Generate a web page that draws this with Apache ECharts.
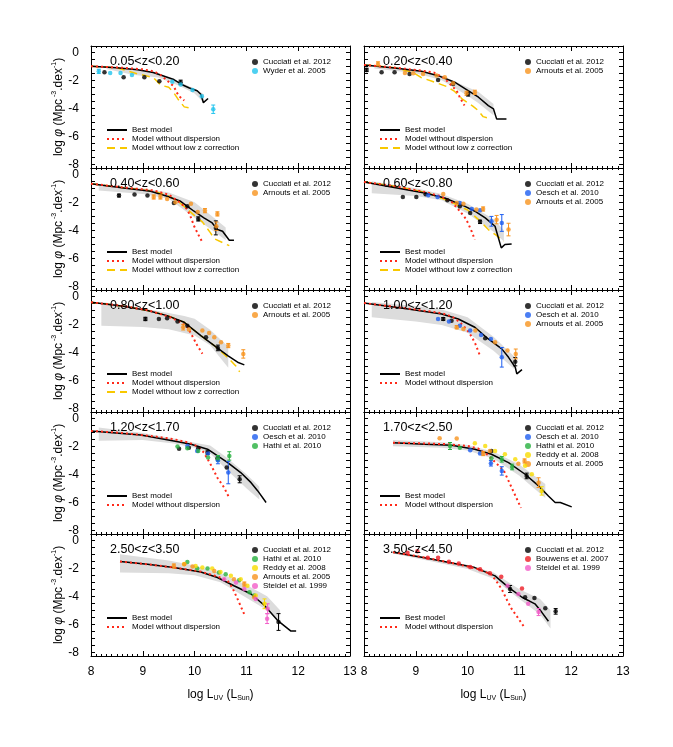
<!DOCTYPE html>
<html>
<head>
<meta charset="utf-8">
<script src="https://cdn.jsdelivr.net/npm/echarts@6.0.0/dist/echarts.min.js"></script>
<style>
  html, body { margin: 0; padding: 0; background: #fff; }
  #main { width: 673px; height: 747px; }
</style>
</head>
<body>
<div id="main"></div>
<script>
// 刻度和红移区间
var xTicks = [8, 9, 10, 11, 12, 13];
var yTicks = [0, -2, -4, -6, -8];
var zBins = ['0.05<z<0.20', '0.20<z<0.40', '0.40<z<0.60', '0.60<z<0.80', '0.80<z<1.00',
             '1.00<z<1.20', '1.20<z<1.70', '1.70<z<2.50', '2.50<z<3.50', '3.50<z<4.50'];

// 0.05<z<0.20
var best1 = [[8.0,-1.0],[8.5,-1.1],[8.9,-1.25],[9.2,-1.45],[9.4,-1.7],[9.6,-1.95],[9.75,-2.3],[9.9,-2.55],[10.05,-2.75],[10.12,-3.0],[10.17,-3.6],[10.26,-3.3]];
var nodisp1 = [[8.0,-1.0],[8.5,-1.08],[9.0,-1.22],[9.2,-1.35],[9.32,-1.55],[9.45,-1.95],[9.6,-2.45],[9.66,-2.9],[9.72,-3.2],[9.8,-3.45]];
var nolowz1 = [[8.0,-1.0],[8.5,-1.1],[8.86,-1.5],[9.2,-1.8],[9.35,-2.35],[9.5,-2.5],[9.6,-2.9],[9.68,-3.35],[9.8,-3.9],[9.9,-3.98]];
var bandHi1 = [[8.3,-1.05],[8.8,-1.2],[9.3,-1.5],[9.7,-2.1],[10.0,-2.6],[10.18,-3.0]];
var bandLo1 = [[8.3,-1.2],[8.8,-1.6],[9.3,-1.8],[9.7,-2.4],[10.0,-2.95],[10.18,-3.6]];
var cucc1 = [[8.26,-1.43],[8.63,-1.79],[9.03,-1.79],[9.32,-2.07],[9.73,-2.14,0.15]];
var wyder1 = [[8.15,-1.36,0.15],[8.37,-1.48],[8.57,-1.48],[8.79,-1.62],[9.57,-2.1],[9.73,-2.3],[9.96,-2.69],[10.14,-3.14],[10.36,-4.07,0.3]];

// 0.20<z<0.40
var best2 = [[8.0,-0.9],[8.59,-1.12],[9.11,-1.36],[9.43,-1.67],[9.75,-2.14],[10.01,-2.74],[10.21,-3.21],[10.4,-3.81],[10.5,-4.05],[10.56,-4.76],[10.75,-4.76]];
var nodisp2 = [[8.0,-0.9],[8.6,-1.1],[9.1,-1.3],[9.35,-1.45],[9.55,-1.85],[9.69,-2.38],[9.79,-2.75],[9.86,-3.3],[9.94,-3.8]];
var nolowz2 = [[8.0,-0.9],[8.6,-1.1],[8.95,-1.45],[9.1,-1.8],[9.3,-2.05],[9.6,-2.45],[9.75,-2.8],[9.9,-3.35],[10.1,-3.85],[10.2,-4.15],[10.3,-4.6],[10.45,-4.76]];
var bandHi2 = [[8.2,-0.95],[9.0,-1.25],[9.5,-1.65],[10.0,-2.5],[10.2,-2.8],[10.5,-3.7]];
var bandLo2 = [[8.2,-1.15],[9.0,-1.5],[9.5,-2.0],[10.0,-3.1],[10.2,-3.6],[10.5,-4.5]];
var cucc2 = [[8.05,-1.26,0.12],[8.34,-1.43],[8.59,-1.43],[8.88,-1.55],[9.43,-1.98],[9.72,-2.26],[10.01,-2.98,0.15]];
var arn2 = [[8.27,-0.83,0.15],[8.79,-1.48],[8.95,-1.5],[9.14,-1.55],[9.4,-1.65],[9.56,-1.79],[9.72,-2.21],[9.98,-2.93,0.15],[10.14,-2.86,0.15]];

// 0.40<z<0.60
var best3 = [[8.0,-0.67],[8.63,-0.98],[9.15,-1.21],[9.47,-1.57],[9.73,-1.93],[9.86,-2.29],[9.99,-2.64],[10.18,-3.12],[10.34,-3.48],[10.44,-3.95],[10.54,-4.07],[10.67,-4.71],[10.76,-4.71]];
var nodisp3 = [[8.0,-0.67],[8.6,-0.93],[9.2,-1.15],[9.5,-1.45],[9.73,-2.05],[9.86,-2.52],[9.93,-3.1],[9.99,-3.7],[10.07,-4.3],[10.15,-4.86]];
var nolowz3 = [[8.0,-0.67],[8.6,-0.95],[9.2,-1.2],[9.5,-1.55],[9.7,-2.0],[9.86,-2.5],[10.0,-2.95],[10.15,-3.4],[10.3,-4.15],[10.38,-4.6],[10.55,-4.9],[10.67,-5.1]];
var bandHi3 = [[8.15,-0.75],[9.0,-1.0],[9.5,-1.3],[10.0,-2.0],[10.3,-2.9],[10.6,-3.8]];
var bandLo3 = [[8.15,-1.15],[9.0,-1.4],[9.5,-1.75],[10.0,-3.1],[10.3,-3.9],[10.6,-4.7]];
var cucc3 = [[8.54,-1.52,0.1],[8.84,-1.45],[9.09,-1.52],[9.6,-2.05],[9.86,-2.29],[10.07,-3.19,0.15],[10.41,-3.83,0.5]];
var arn3 = [[9.21,-1.62,0.15],[9.34,-1.62,0.15],[9.47,-1.76],[9.63,-2.0],[9.93,-2.1],[10.06,-2.69],[10.2,-2.6,0.15],[10.42,-3.71,0.3],[10.44,-2.83,0.15]];

// 0.60<z<0.80
var best4 = [[8.0,-0.55],[8.53,-0.9],[9.17,-1.33],[9.56,-1.69],[9.95,-2.29],[10.14,-2.64],[10.34,-3.12],[10.53,-3.71],[10.65,-5.26],[10.72,-5.02],[10.85,-4.98]];
var nodisp4 = [[8.0,-0.55],[8.6,-0.85],[9.2,-1.28],[9.5,-1.6],[9.7,-2.0],[9.82,-2.5],[9.95,-3.1],[10.01,-3.5],[10.08,-4.1],[10.14,-4.67]];
var nolowz4 = [[8.0,-0.55],[8.6,-0.85],[9.2,-1.3],[9.6,-1.85],[10.0,-2.55],[10.2,-3.2],[10.4,-3.95],[10.55,-4.35],[10.7,-4.8]];
var bandHi4 = [[8.15,-0.5],[9.0,-1.0],[9.5,-1.4],[10.0,-2.1],[10.5,-3.2],[10.7,-4.0]];
var bandLo4 = [[8.15,-1.35],[9.0,-1.55],[9.5,-1.85],[10.0,-2.8],[10.5,-4.1],[10.7,-4.8]];
var cucc4 = [[8.75,-1.62],[9.01,-1.62],[9.19,-1.43],[9.61,-1.86],[9.85,-2.29],[10.05,-2.76],[10.24,-3.4,0.12]];
var oesch4 = [[9.24,-1.5],[9.42,-1.62],[9.85,-2.05],[10.08,-2.48],[10.24,-2.57],[10.46,-3.36,0.35],[10.66,-3.48,0.6]];
var arn4 = [[9.53,-1.4],[9.79,-2.05],[9.92,-2.1],[10.17,-2.52],[10.3,-2.48,0.15],[10.56,-3.24,0.3],[10.79,-3.95,0.45]];

// 0.80<z<1.00
var best5 = [[8.0,-0.43],[8.63,-0.71],[9.09,-1.02],[9.47,-1.38],[9.8,-1.86],[10.12,-2.81],[10.38,-3.52],[10.64,-4.24],[10.83,-4.71],[10.96,-4.9]];
var nodisp5 = [[8.0,-0.43],[8.6,-0.68],[9.1,-1.0],[9.5,-1.45],[9.7,-1.8],[9.86,-2.2],[9.95,-2.8],[10.05,-3.5],[10.15,-4.1]];
var nolowz5 = [[8.0,-0.43],[8.63,-0.71],[9.09,-1.02],[9.47,-1.38],[9.8,-1.86],[10.12,-2.81],[10.38,-3.52],[10.6,-4.25],[10.7,-4.6],[10.8,-5.0],[10.87,-5.4]];
var bandHi5 = [[8.2,-0.4],[9.0,-0.85],[9.5,-1.2],[9.8,-1.4],[10.0,-1.6],[10.3,-2.4],[10.65,-3.6]];
var bandLo5 = [[8.2,-2.1],[9.0,-2.2],[9.5,-2.35],[10.0,-2.8],[10.3,-3.5],[10.65,-5.1]];
var cucc5 = [[9.05,-1.62,0.12],[9.31,-1.62],[9.47,-1.57],[9.67,-1.81],[9.86,-2.1],[10.22,-2.93],[10.45,-3.69,0.2]];
var arn5 = [[9.78,-2.21,0.2],[9.89,-2.38],[10.15,-2.45],[10.28,-2.62],[10.38,-2.93],[10.51,-3.29],[10.65,-3.52,0.15],[10.94,-4.12,0.3]];

// 1.00<z<1.20
var best6 = [[8.0,-0.48],[8.85,-0.9],[9.5,-1.26],[9.82,-1.62],[10.14,-2.21],[10.4,-3.05],[10.66,-3.76],[10.79,-4.36],[10.92,-5.07],[10.95,-5.55],[11.05,-5.24]];
var nodisp6 = [[8.0,-0.48],[8.8,-0.85],[9.5,-1.2],[9.7,-1.45],[9.85,-1.85],[9.98,-2.35],[10.08,-2.9],[10.15,-3.4],[10.24,-4.25]];
var bandHi6 = [[8.15,-0.4],[9.0,-0.7],[9.5,-0.95],[10.0,-1.5],[10.5,-2.9],[10.9,-4.3]];
var bandLo6 = [[8.15,-1.5],[9.0,-1.8],[9.5,-2.05],[10.0,-2.6],[10.5,-3.9],[10.9,-5.2]];
var cucc6 = [[9.53,-1.62,0.1],[9.69,-1.74],[10.34,-3.0],[10.92,-4.67,0.3]];
var oesch6 = [[9.43,-1.62],[9.64,-1.81],[9.85,-2.1],[10.05,-2.45],[10.26,-2.76],[10.45,-3.05],[10.66,-4.36,0.7]];
var arn6 = [[9.79,-2.21,0.12],[9.92,-2.33],[10.15,-2.45],[10.53,-3.29],[10.77,-3.88],[10.93,-4.12,0.35]];

// 1.20<z<1.70
var best7 = [[8.0,-0.9],[8.96,-1.19],[9.6,-1.62],[9.93,-1.86],[10.25,-2.21],[10.64,-3.17],[10.89,-3.88],[11.09,-4.6],[11.22,-5.19],[11.38,-6.02]];
var nodisp7 = [[8.0,-0.9],[8.6,-1.05],[9.2,-1.28],[9.6,-1.5],[9.9,-1.75],[10.05,-2.0],[10.18,-2.45],[10.31,-3.3],[10.44,-4.25],[10.57,-4.95],[10.67,-5.7]];
var bandHi7 = [[8.15,-0.65],[9.0,-1.05],[9.6,-1.45],[10.0,-1.75],[10.3,-1.95],[10.6,-2.75],[11.0,-4.0],[11.25,-4.9]];
var bandLo7 = [[8.15,-1.6],[9.0,-1.55],[9.6,-1.8],[10.0,-2.1],[10.3,-2.5],[10.6,-3.6],[11.0,-5.0],[11.25,-5.8]];
var cucc7 = [[9.7,-2.17],[9.89,-2.1],[10.07,-2.14],[10.25,-2.45,0.12],[10.44,-2.88],[10.62,-3.52],[10.87,-4.36,0.25]];
var oesch7 = [[9.86,-1.98],[10.05,-2.33],[10.26,-2.52],[10.45,-3.0,0.25],[10.65,-3.88,0.8]];
var hathi7 = [[9.67,-2.02],[9.86,-2.14],[10.07,-2.33],[10.26,-2.81],[10.45,-2.86,0.2],[10.67,-2.69,0.3]];

// 1.70<z<2.50
var best8 = [[8.56,-1.74],[9.17,-1.86],[9.69,-1.93],[10.14,-2.21],[10.46,-2.57],[10.79,-3.17],[11.11,-4.0],[11.37,-4.83],[11.56,-5.55],[11.69,-6.02],[11.79,-6.02],[12.01,-6.33]];
var nodisp8 = [[8.56,-1.74],[9.2,-1.8],[9.6,-1.85],[10.0,-1.98],[10.2,-2.15],[10.4,-2.65],[10.55,-3.2],[10.7,-3.75],[10.85,-4.95],[11.03,-6.4]];
var bandHi8 = [[8.56,-1.55],[9.5,-1.72],[10.0,-1.9],[10.5,-2.4],[11.0,-3.3],[11.5,-4.7]];
var bandLo8 = [[8.56,-2.0],[9.5,-2.1],[10.0,-2.3],[10.5,-2.9],[11.0,-4.1],[11.5,-5.7]];
var cucc8 = [[10.46,-2.33],[11.14,-4.12,0.2]];
var oesch8 = [[10.05,-2.29],[10.24,-2.52],[10.45,-3.21,0.2],[10.66,-3.76,0.3]];
var hathi8 = [[9.66,-1.98,0.25],[9.85,-2.1],[10.46,-2.86],[10.66,-2.93,0.2],[10.86,-3.48,0.2]];
var reddy8 = [[10.14,-1.79],[10.34,-1.98],[10.53,-2.33],[10.72,-2.57],[10.92,-2.93],[11.11,-3.4],[11.24,-4.0],[11.43,-5.19,0.3]];
var arn8 = [[9.46,-1.43],[9.79,-1.45],[10.3,-2.52,0.15],[10.43,-2.33],[10.98,-3.24],[11.1,-3.05,0.15],[11.37,-4.6,0.35]];

// 2.50<z<3.50
var best9 = [[8.56,-1.51],[9.09,-1.72],[9.6,-1.95],[10.12,-2.26],[10.44,-2.66],[10.76,-3.25],[11.09,-3.84],[11.35,-4.66],[11.6,-5.72],[11.86,-6.49],[11.96,-6.49]];
var nodisp9 = [[8.56,-1.51],[9.1,-1.72],[9.6,-1.95],[10.1,-2.22],[10.45,-2.6],[10.64,-2.9],[10.73,-3.4],[10.83,-4.2],[10.96,-5.3]];
var bandHi9 = [[8.56,-1.0],[9.5,-1.45],[10.0,-1.8],[10.5,-2.35],[11.0,-3.2],[11.4,-4.0],[11.65,-5.0]];
var bandLo9 = [[8.56,-2.3],[9.5,-2.35],[10.0,-2.5],[10.5,-3.0],[11.0,-4.1],[11.4,-5.0],[11.65,-5.9]];
var cucc9 = [[11.62,-5.84,0.6]];
var hathi9 = [[9.86,-1.55],[10.05,-2.02],[10.25,-2.02],[10.47,-2.31],[10.6,-2.42],[10.86,-2.85],[11.06,-3.72],[11.15,-3.95]];
var reddy9 = [[9.8,-1.7],[10.02,-1.84],[10.15,-1.95],[10.34,-2.02],[10.5,-2.26],[10.7,-2.54],[10.89,-2.78],[11.02,-3.25],[11.18,-3.95],[11.35,-4.54,0.35]];
var arn9 = [[9.6,-1.84,0.15],[9.8,-1.72],[9.96,-1.88],[10.38,-2.19],[10.76,-2.78],[10.96,-3.13,0.15],[11.15,-4.07]];
var steid9 = [[10.57,-2.78],[10.8,-3.01],[10.96,-3.48],[11.18,-4.19],[11.41,-4.89,0.35],[11.4,-5.6,0.35]];

// 3.50<z<4.50
var best10 = [[8.56,-0.85],[9.17,-1.25],[9.82,-1.72],[10.14,-1.95],[10.53,-2.54],[10.79,-3.36],[11.05,-4.07],[11.3,-4.54],[11.43,-5.13],[11.56,-5.79]];
var nodisp10 = [[8.56,-0.85],[9.2,-1.25],[9.8,-1.7],[10.2,-2.05],[10.45,-2.42],[10.55,-2.9],[10.66,-3.5],[10.75,-4.2],[10.85,-4.9],[11.0,-5.7],[11.11,-6.3]];
var bandHi10 = [[8.56,-0.78],[9.5,-1.45],[10.0,-1.75],[10.5,-2.3],[11.0,-3.5],[11.4,-4.2],[11.6,-5.0]];
var bandLo10 = [[8.56,-0.95],[9.5,-1.65],[10.0,-2.05],[10.5,-2.75],[11.0,-4.2],[11.4,-5.3],[11.6,-6.3]];
var cucc10 = [[10.82,-3.48,0.25],[11.11,-4.07],[11.29,-4.12],[11.5,-4.85],[11.7,-5.08,0.2]];
var bouw10 = [[8.84,-0.89],[9.03,-0.78],[9.23,-1.25],[9.43,-1.25],[9.64,-1.54],[9.83,-1.65],[10.05,-1.91],[10.24,-2.07],[10.43,-2.35],[10.65,-2.61],[11.05,-3.44]];
var steid10 = [[10.77,-3.25],[10.98,-3.84],[11.17,-4.54],[11.37,-5.13,0.25]];

var CUC = 'Cucciati et al. 2012', WYD = 'Wyder et al. 2005', ARN = 'Arnouts et al. 2005',
    OES = 'Oesch et al. 2010', HAT = 'Hathi et al. 2010', RED = 'Reddy et al. 2008',
    STE = 'Steidel et al. 1999', BOU = 'Bouwens et al. 2007';
var BEST = 'Best model', NODISP = 'Model without dispersion', NOLOWZ = 'Model without low z correction';

var colors = {};
colors[CUC] = '#000000'; colors[WYD] = '#22c4ee'; colors[ARN] = '#f7931e';
colors[OES] = '#1e5ef0'; colors[HAT] = '#27b03f'; colors[RED] = '#f9dc00';
colors[STE] = '#f25cc8'; colors[BOU] = '#ee1c24';

var panels = [
  { band: [bandHi1, bandLo1], best: best1, nodisp: nodisp1, nolowz: nolowz1, sets: [[CUC, cucc1], [WYD, wyder1]] },
  { band: [bandHi2, bandLo2], best: best2, nodisp: nodisp2, nolowz: nolowz2, sets: [[CUC, cucc2], [ARN, arn2]] },
  { band: [bandHi3, bandLo3], best: best3, nodisp: nodisp3, nolowz: nolowz3, sets: [[CUC, cucc3], [ARN, arn3]] },
  { band: [bandHi4, bandLo4], best: best4, nodisp: nodisp4, nolowz: nolowz4, sets: [[CUC, cucc4], [OES, oesch4], [ARN, arn4]] },
  { band: [bandHi5, bandLo5], best: best5, nodisp: nodisp5, nolowz: nolowz5, sets: [[CUC, cucc5], [ARN, arn5]] },
  { band: [bandHi6, bandLo6], best: best6, nodisp: nodisp6, sets: [[CUC, cucc6], [OES, oesch6], [ARN, arn6]] },
  { band: [bandHi7, bandLo7], best: best7, nodisp: nodisp7, sets: [[CUC, cucc7], [OES, oesch7], [HAT, hathi7]] },
  { band: [bandHi8, bandLo8], best: best8, nodisp: nodisp8, sets: [[CUC, cucc8], [OES, oesch8], [HAT, hathi8], [RED, reddy8], [ARN, arn8]] },
  { band: [bandHi9, bandLo9], best: best9, nodisp: nodisp9, sets: [[CUC, cucc9], [HAT, hathi9], [RED, reddy9], [ARN, arn9], [STE, steid9]] },
  { band: [bandHi10, bandLo10], best: best10, nodisp: nodisp10, sets: [[CUC, cucc10], [BOU, bouw10], [STE, steid10]] }
];

var FONT = '"Liberation Sans", Arial, Helvetica, sans-serif';
var NOFILL = 'rgba(0,0,0,0)';
var yTickVals = [];
for (var v = 0; v >= -8; v -= 0.5) yTickVals.push(v);

var grid = [], xAxis = [], yAxis = [], series = [], legend = [], title = [];

function bandRender(hi, lo) {
  return function (params, api) {
    var pts = hi.map(function (d) { return api.coord(d); })
      .concat(lo.slice().reverse().map(function (d) { return api.coord(d); }));
    return { type: 'polygon', shape: { points: pts }, style: { fill: '#dcdcdc' } };
  };
}

function errRender(params, api) {
  var x = api.value(0), y = api.value(1), e = api.value(2);
  var lo = api.coord([x, y - e]), hi = api.coord([x, y + e]);
  var st = { stroke: api.visual('color'), lineWidth: 1 };
  return {
    type: 'group', children: [
      { type: 'line', shape: { x1: lo[0], y1: lo[1], x2: hi[0], y2: hi[1] }, style: st },
      { type: 'line', shape: { x1: lo[0] - 2, y1: lo[1], x2: lo[0] + 2, y2: lo[1] }, style: st },
      { type: 'line', shape: { x1: hi[0] - 2, y1: hi[1], x2: hi[0] + 2, y2: hi[1] }, style: st }
    ]
  };
}

panels.forEach(function (p, i) {
  var col = i % 2, row = Math.floor(i / 2);
  var left = col ? 364 : 91, top = 46 + row * 122;
  var xi = 2 * i, yi = 2 * i;

  grid.push({ left: left, top: top, width: 259, height: 122 });

  var axLine = { onZero: false, lineStyle: { color: '#000', width: 1 } };
  var xBase = {
    gridIndex: i, type: 'value', min: 8, max: 13, interval: 1,
    axisLine: axLine, splitLine: { show: false },
    axisTick: { inside: true, length: 5, lineStyle: { color: '#000' } },
    minorTick: { show: true, splitNumber: 10, length: 2, lineStyle: { color: '#000' } }
  };
  xAxis.push(Object.assign({}, xBase, {
    position: 'bottom',
    axisLabel: { show: row === 4, margin: 10, color: '#000', fontSize: 12, fontFamily: FONT },
    name: row === 4 ? 'log L{sub|UV} (L{sub|Sun})' : '',
    nameLocation: 'middle', nameGap: 32,
    nameTextStyle: { color: '#000', fontSize: 12, fontFamily: FONT,
      rich: { sub: { fontSize: 7, fontFamily: FONT, color: '#000', padding: [7, 0, 0, 0] } } }
  }));
  xAxis.push(Object.assign({}, xBase, { position: 'top', axisLabel: { show: false } }));

  var yBase = {
    gridIndex: i, type: 'value', min: -8.27, max: 0.45,
    axisLine: axLine, splitLine: { show: false },
    axisTick: { inside: true, length: 4, customValues: yTickVals, lineStyle: { color: '#000' } }
  };
  yAxis.push(Object.assign({}, yBase, {
    position: 'left',
    axisLabel: { show: col === 0, customValues: yTicks, margin: 12, color: '#000', fontSize: 12, fontFamily: FONT },
    name: col === 0 ? 'log {it|φ} (Mpc{sup| -3}.dex{sup|-1})' : '',
    nameLocation: 'middle', nameGap: 19,
    nameTextStyle: { color: '#000', fontSize: 12, fontFamily: FONT,
      rich: {
        it: { fontStyle: 'italic', fontSize: 12, fontFamily: FONT, color: '#000' },
        sup: { fontSize: 7, fontFamily: FONT, color: '#000', padding: [0, 0, 8, 0] }
      } }
  }));
  yAxis.push(Object.assign({}, yBase, { position: 'right', axisLabel: { show: false } }));

  title.push({
    text: zBins[i], left: left + 14, top: top + 4,
    textStyle: { fontSize: 12.5, fontWeight: 'normal', color: '#000', fontFamily: FONT }
  });

  // 灰色区域
  series.push({
    type: 'custom', silent: true, xAxisIndex: xi, yAxisIndex: yi, z: 1,
    data: [p.band[0][0]], renderItem: bandRender(p.band[0], p.band[1])
  });

  // 模型曲线 (itemStyle 透明, 图例里只留线)
  var lineNames = [BEST, NODISP];
  series.push({ type: 'line', name: BEST, data: p.best, xAxisIndex: xi, yAxisIndex: yi, symbol: 'none', z: 3,
    itemStyle: { color: NOFILL }, lineStyle: { color: '#000', width: 1.5 } });
  series.push({ type: 'line', name: NODISP, data: p.nodisp, xAxisIndex: xi, yAxisIndex: yi, symbol: 'none', z: 3,
    itemStyle: { color: NOFILL }, lineStyle: { color: '#ff2a1a', width: 2, type: [2, 3] } });
  if (p.nolowz) {
    lineNames.push(NOLOWZ);
    series.push({ type: 'line', name: NOLOWZ, data: p.nolowz, xAxisIndex: xi, yAxisIndex: yi, symbol: 'none', z: 2,
      itemStyle: { color: NOFILL }, lineStyle: { color: '#f8c800', width: 1.5, type: [8, 5] } });
  }

  // 观测数据
  p.sets.forEach(function (s) {
    var name = s[0], pts = s[1], c = colors[name];
    var errs = pts.filter(function (d) { return d[2] > 0; });
    if (errs.length) {
      series.push({ type: 'custom', silent: true, xAxisIndex: xi, yAxisIndex: yi, z: 4,
        itemStyle: { color: c, opacity: 0.75 }, data: errs, renderItem: errRender });
    }
    series.push({ type: 'scatter', name: name, xAxisIndex: xi, yAxisIndex: yi, z: 5,
      symbol: 'circle', symbolSize: 4.5, itemStyle: { color: c },
      data: pts.map(function (d) { return [d[0], d[1]]; }) });
  });

  legend.push({
    left: left + 156, top: top + 7, orient: 'vertical', selectedMode: false,
    itemWidth: 6, itemHeight: 6, itemGap: 1, icon: 'circle',
    textStyle: { fontSize: 8, color: '#000', fontFamily: FONT },
    data: p.sets.map(function (s) { return s[0]; })
  });
  legend.push({
    left: left + 10, top: top + 75, orient: 'vertical', selectedMode: false,
    itemWidth: 20, itemHeight: 6, itemGap: 1,
    textStyle: { fontSize: 8, color: '#000', fontFamily: FONT },
    data: lineNames
  });
});

var myChart = echarts.init(document.getElementById('main'), null, { renderer: 'canvas' });
myChart.setOption({
  animation: false,
  backgroundColor: '#fff',
  textStyle: { fontFamily: FONT },
  title: title,
  grid: grid,
  xAxis: xAxis,
  yAxis: yAxis,
  legend: legend,
  series: series
});
</script>
</body>
</html>
